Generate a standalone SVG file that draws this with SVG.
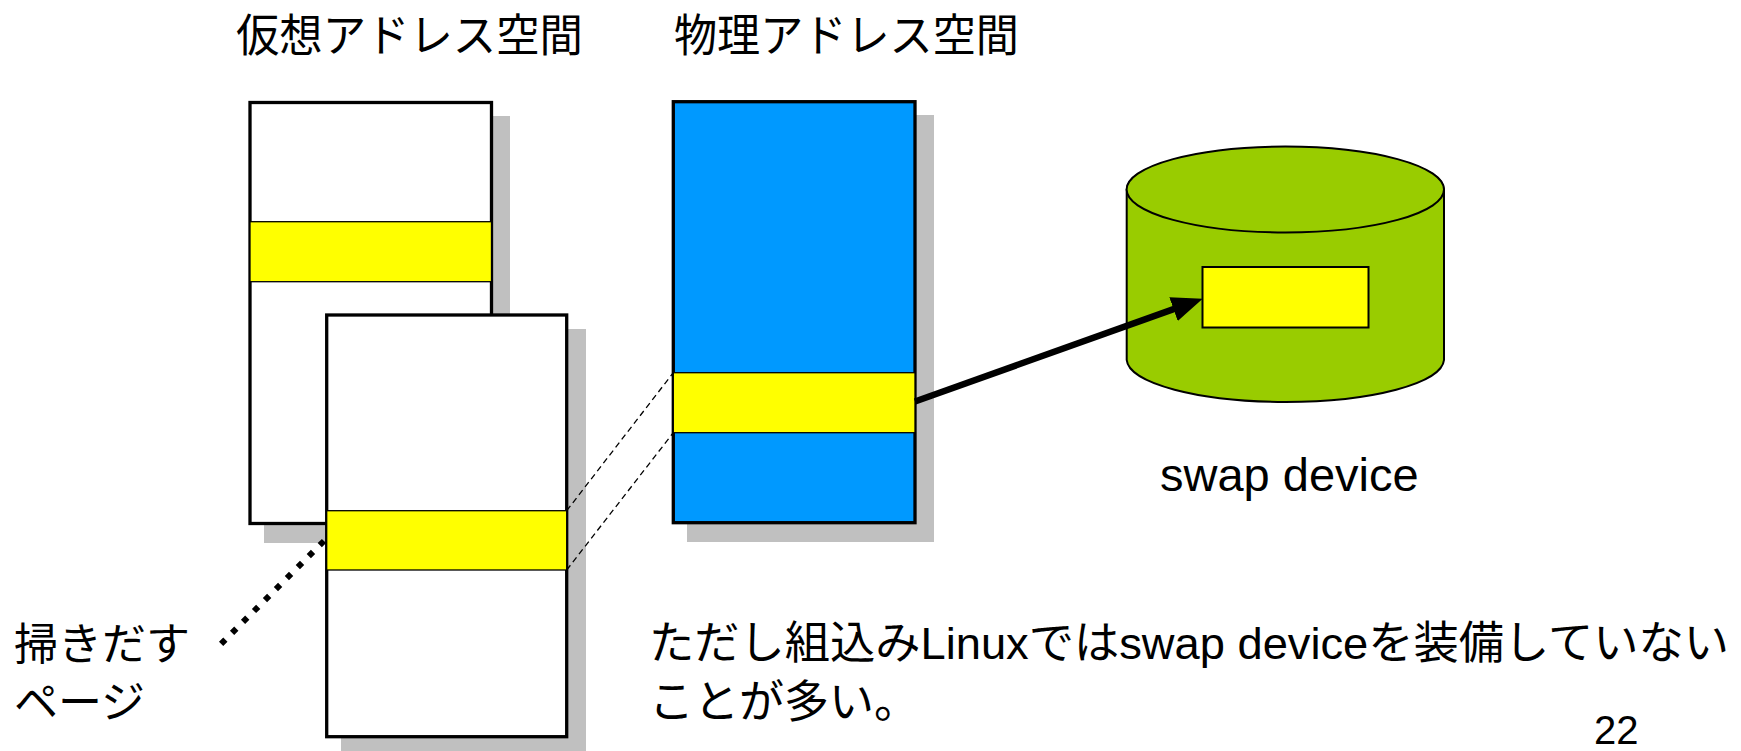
<svg xmlns="http://www.w3.org/2000/svg" width="1741" height="751" viewBox="0 0 1741 751">
  <style>
    .shadow { fill: #C0C0C0; stroke: none; }
    .space { stroke: #000; stroke-width: 3.3; }
    .page { fill: #FFFF00; stroke: #000; stroke-width: 1.3; }
    .jp { font-family: "Liberation Sans", "Noto Sans CJK JP", sans-serif; fill: #000; }
    .lat { font-family: "Liberation Sans", Arial, sans-serif; fill: #000; }
  </style>
  <defs>
    <marker id="arrowHead" markerUnits="userSpaceOnUse" markerWidth="31" markerHeight="25" refX="9" refY="12.5" orient="auto">
      <path d="M0,0 L31,12.5 L0,25 z" fill="#000"/>
    </marker>
  </defs>

  <rect width="1741" height="751" fill="#FFFFFF"/>

  <!-- headings -->
  <text class="jp" x="236" y="52" font-size="45" textLength="347" lengthAdjust="spacingAndGlyphs">仮想アドレス空間</text>
  <text class="jp" x="674" y="52" font-size="45" textLength="345" lengthAdjust="spacingAndGlyphs">物理アドレス空間</text>

  <!-- virtual address space, first process -->
  <g id="virtual-space-1">
    <rect class="shadow" x="264" y="116" width="246" height="427"/>
    <rect class="space" x="250" y="102.5" width="241.5" height="421" fill="#FFFFFF"/>
    <rect class="page" x="250" y="221.7" width="241.5" height="60"/>
  </g>

  <!-- virtual address space, second process -->
  <g id="virtual-space-2">
    <rect class="shadow" x="341" y="329" width="245" height="424"/>
    <rect class="space" x="326.7" y="315" width="240" height="421.7" fill="#FFFFFF"/>
    <rect class="page" x="326.7" y="510.7" width="240" height="59.3"/>
  </g>

  <!-- physical address space -->
  <g id="physical-space">
    <rect class="shadow" x="687" y="115" width="247" height="427"/>
    <rect class="space" x="673.3" y="101.7" width="241.7" height="421" fill="#0099FF"/>
    <rect class="page" x="673.3" y="372.7" width="241.7" height="60"/>
  </g>

  <!-- swap device -->
  <g id="swap-device">
    <path d="M1126.7,189.5 L1126.7,360 A158.7,43 0 0 0 1444,360 L1444,189.5 A158.7,43 0 0 0 1126.7,189.5 Z" fill="#99CC00" stroke="#000" stroke-width="2"/>
    <ellipse cx="1285.3" cy="189.5" rx="158.7" ry="43" fill="#99CC00" stroke="#000" stroke-width="2"/>
    <rect x="1202.5" y="267" width="166" height="60.5" fill="#FFFF00" stroke="#000" stroke-width="2"/>
    <text class="lat" x="1160" y="491" font-size="47">swap device</text>
  </g>

  <!-- label for the page being swapped out -->
  <g id="evict-label">
    <text class="jp" x="14" y="660" font-size="44">掃きだす</text>
    <text class="jp" x="14" y="718" font-size="44">ページ</text>
  </g>

  <!-- connectors -->
  <g id="connectors">
    <line x1="566.7" y1="510.7" x2="673.3" y2="372.7" stroke="#000" stroke-width="1.3" stroke-dasharray="6 4"/>
    <line x1="566.7" y1="570" x2="673.3" y2="432.7" stroke="#000" stroke-width="1.3" stroke-dasharray="6 4"/>
    <line x1="324" y1="541" x2="219" y2="646" stroke="#000" stroke-width="6" stroke-dasharray="6 9.5"/>
    <line x1="915" y1="401.5" x2="1182" y2="306.1" stroke="#000" stroke-width="6.5" marker-end="url(#arrowHead)"/>
  </g>

  <!-- note -->
  <text class="jp" x="649" y="659" font-size="45" textLength="1080" lengthAdjust="spacingAndGlyphs">ただし組込みLinuxではswap deviceを装備していない</text>
  <text class="jp" x="649" y="718" font-size="45">ことが多い。</text>

  <!-- page number -->
  <text class="lat" x="1594" y="744" font-size="40">22</text>
</svg>
